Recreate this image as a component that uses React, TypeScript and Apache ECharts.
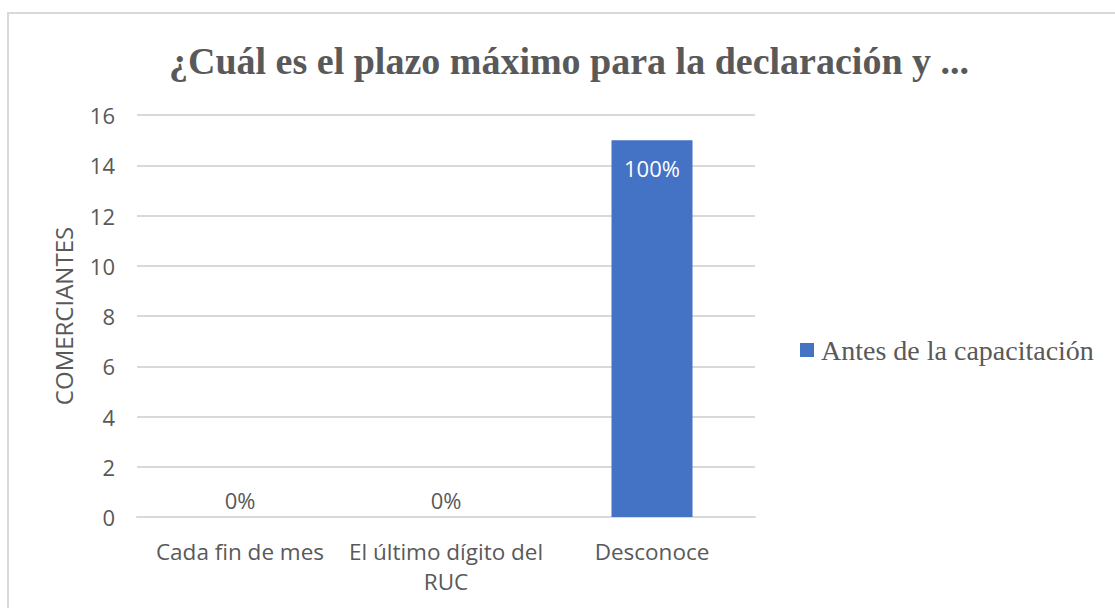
import React, { useEffect, useRef } from "react";
import * as echarts from "echarts";

const categories = ["Cada fin de mes", "El último dígito del RUC", "Desconoce"];
const antes = [0, 0, 15];
const percentLabels = ["0%", "0%", "100%"];
const titleText = "¿Cuál es el plazo máximo para la declaración y ...";
const seriesName = "Antes de la capacitación";
const yAxisName = "COMERCIANTES";

function wrapWords(text: string, maxChars: number): string {
  const words = text.split(" ");
  const lines: string[] = [];
  let cur = "";
  for (const w of words) {
    const next = cur ? cur + " " + w : w;
    if (next.length > maxChars && cur) {
      lines.push(cur);
      cur = w;
    } else {
      cur = next;
    }
  }
  if (cur) lines.push(cur);
  return lines.join("\n");
}

export default function App() {
  const ref = useRef<HTMLDivElement>(null);
  useEffect(() => {
    if (!ref.current) return;
    const chart = echarts.init(ref.current, null, { renderer: "svg" });
    const grey = "#595959";
    const sans = "'Open Sans', sans-serif";
    const serif = "'Liberation Serif', 'Times New Roman', serif";
    chart.setOption({
      animation: false,
      backgroundColor: "#ffffff",
      title: {
        text: titleText,
        left: 564,
        textAlign: "center",
        top: 37,
        textStyle: { fontFamily: serif, fontWeight: "bold", fontSize: 38, color: grey },
      },
      graphic: [
        {
          type: "rect",
          shape: { x: 8, y: 13, width: 1130, height: 620 },
          style: { fill: "none", stroke: "#d9d9d9", lineWidth: 2 },
          silent: true,
        },
      ],
      legend: {
        left: 795,
        top: 331,
        icon: "rect",
        itemWidth: 14,
        itemHeight: 14,
        textStyle: { fontFamily: serif, fontSize: 28, color: grey, padding: [0, 0, 0, 2] },
        data: [seriesName],
      },
      grid: { left: 137, right: 360, top: 115, bottom: 91, containLabel: false },
      xAxis: {
        type: "category",
        data: categories,
        axisLine: { lineStyle: { color: "#d9d9d9", width: 2 } },
        axisTick: { show: false },
        axisLabel: {
          fontFamily: sans,
          fontSize: 22.5,
          color: grey,
          margin: 19,
          lineHeight: 30,
          interval: 0,
          formatter: (v: string) => wrapWords(v, 20),
        },
      },
      yAxis: {
        type: "value",
        min: 0,
        max: 16,
        interval: 2,
        name: yAxisName,
        nameLocation: "middle",
        nameGap: 62,
        nameTextStyle: { fontFamily: sans, fontSize: 24, color: grey },
        axisLine: { show: false },
        axisTick: { show: false },
        axisLabel: { fontFamily: sans, fontSize: 22, color: grey, margin: 22 },
        splitLine: { lineStyle: { color: "#d9d9d9", width: 2 } },
      },
      series: [
        {
          name: seriesName,
          type: "bar",
          barWidth: 81,
          itemStyle: { color: "#4472C4" },
          data: antes.map((v) => ({
            value: v,
            label:
              v > 0
                ? { position: "insideTop", distance: 17, color: "#ffffff" }
                : { position: "top", distance: 6, color: grey },
          })),
          label: {
            show: true,
            fontFamily: sans,
            fontSize: 22,
            formatter: (p: any) => percentLabels[p.dataIndex],
          },
        },
      ],
    });
    return () => chart.dispose();
  }, []);
  return (
    <div
      ref={ref}
      style={{ position: "absolute", left: 0, top: 0, width: 1115, height: 608 }}
    />
  );
}
